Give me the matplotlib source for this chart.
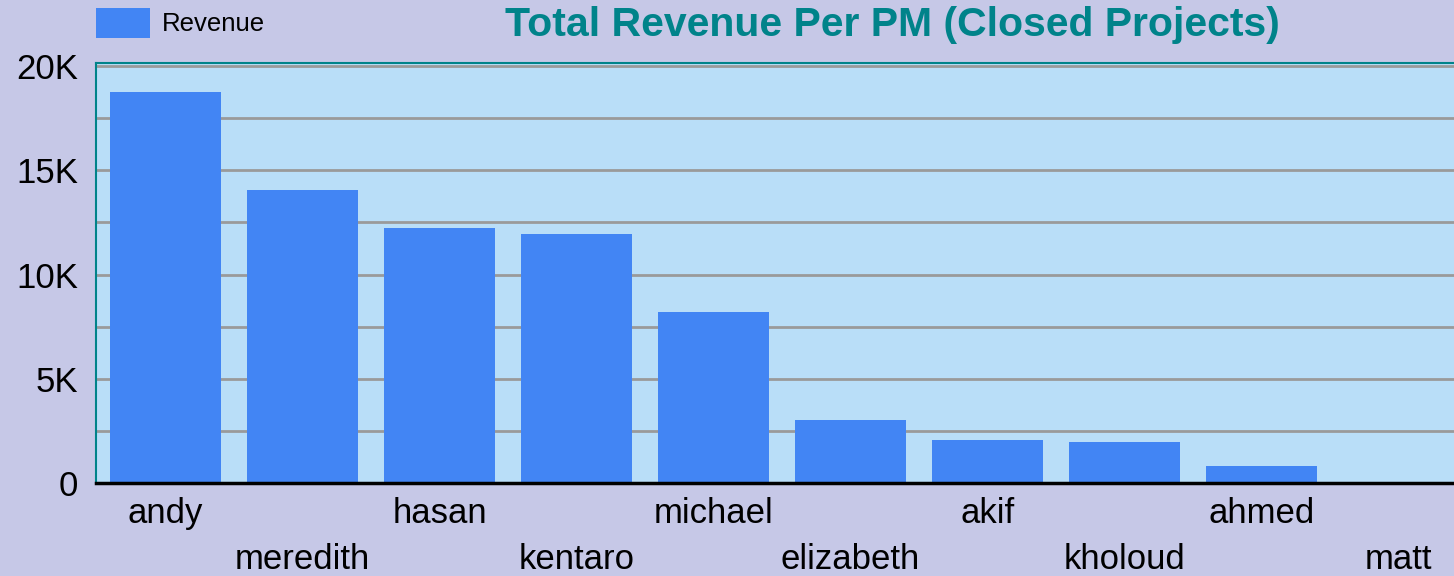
import matplotlib
matplotlib.use('Agg')
import matplotlib.pyplot as plt
from matplotlib.ticker import MultipleLocator, FuncFormatter

plt.rcParams['font.family'] = ['Liberation Sans', 'DejaVu Sans']

pms = ['andy', 'meredith', 'hasan', 'kentaro', 'michael',
       'elizabeth', 'akif', 'kholoud', 'ahmed', 'matt']
revenue = [18750, 14050, 12230, 11940, 8200, 3020, 2060, 1970, 820, 0]

bg = '#c6c8e7'
plot_bg = '#b9def8'
bar_col = '#4285f4'
teal = '#00838a'

fig = plt.figure(figsize=(14.54, 5.76), dpi=100, facecolor=bg)
ax = fig.add_axes([96 / 1454, 93 / 576, 1 - 96 / 1454, 420 / 576])
ax.set_facecolor(plot_bg)

x = range(len(pms))
ax.bar(x, revenue, width=0.81, color=bar_col, label='Revenue', zorder=3)

ax.set_xlim(-0.507, 9.405)
ax.set_ylim(0, 20150)
ax.yaxis.set_major_locator(MultipleLocator(5000))
ax.yaxis.set_minor_locator(MultipleLocator(2500))
ax.yaxis.set_major_formatter(FuncFormatter(lambda v, p: '0' if v == 0 else f'{int(v / 1000)}K'))
ax.grid(axis='y', which='both', color='#9a9a9a', linewidth=2, zorder=1)
ax.tick_params(axis='y', which='both', length=0, labelsize=25, pad=13)

ax.set_xticks(list(x))
ax.set_xticklabels(pms, fontsize=25)
ax.tick_params(axis='x', length=0)
for i, t in enumerate(ax.xaxis.get_major_ticks()):
    t.set_pad(10 if i % 2 == 0 else 43)

ax.spines['right'].set_visible(False)
ax.spines['left'].set_color(teal)
ax.spines['left'].set_linewidth(1.5)
ax.spines['top'].set_color(teal)
ax.spines['top'].set_linewidth(1.5)
ax.spines['bottom'].set_color('black')
ax.spines['bottom'].set_linewidth(2.5)
ax.spines['bottom'].set_zorder(4)

ax.legend(loc='upper left', bbox_to_anchor=(96 / 1454, 1 - 8 / 576),
          bbox_transform=fig.transFigure, frameon=False, fontsize=18.5,
          handlelength=2.1, handleheight=1.4, handletextpad=0.45,
          borderpad=0, borderaxespad=0)

fig.text(505 / 1454, 1 - 36 / 576, 'Total Revenue Per PM (Closed Projects)',
         color=teal, fontsize=29.5, fontweight='bold', ha='left', va='baseline')

fig.savefig('out.png', dpi=100, facecolor=bg)
